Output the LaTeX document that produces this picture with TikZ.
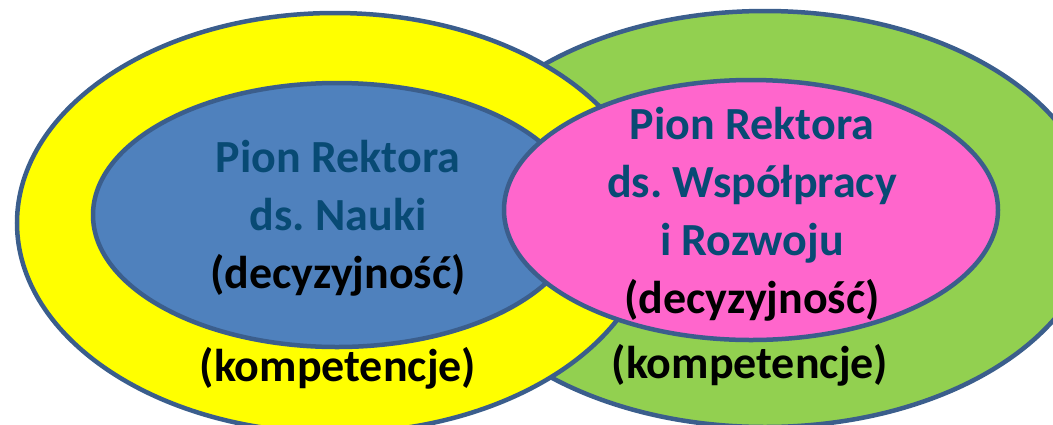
\documentclass[tikz,border=0pt]{standalone}
\usepackage{fontspec}
\setmainfont{Carlito}
\usetikzlibrary{positioning,shapes.geometric}
\definecolor{figedge}{RGB}{59,94,140}
\definecolor{figyellow}{RGB}{255,255,0}
\definecolor{figgreen}{RGB}{146,208,80}
\definecolor{figblue}{RGB}{79,129,189}
\definecolor{figpink}{RGB}{255,102,204}
\definecolor{fignavy}{RGB}{8,74,116}
\tikzset{
  figsphere/.style={draw=figedge, ellipse, line width=4.5pt, inner sep=0pt},
  figtext/.style={font=\fontsize{46}{58}\selectfont\bfseries\frenchspacing, align=center, inner sep=0pt},
}

\begin{document}
\begin{tikzpicture}[x=1pt, y=-1pt,
    pion/.style={figtext, text=fignavy},
    komp/.style={figtext, text=black}]
  \useasboundingbox (0,0) rectangle (1053,424);
  \clip (0,0) rectangle (1053,424);
  % outer rings (competences)
  \node[figsphere, fill=figgreen, minimum width=660pt, minimum height=416pt] (wspring) at (765,219) {};
  \node[figsphere, fill=figyellow, minimum width=636pt, minimum height=420pt] (naukring) at (335,223) {};
  % inner ovals (decisions)
  \node[figsphere, fill=figblue, minimum width=488pt, minimum height=264pt] (nauka) at (337,215) {};
  \node[figsphere, fill=figpink, minimum width=494pt, minimum height=260pt] (wsp) at (751,210) {};
  \node[pion] (nauka text) at (338,218) {Pion Rektora\\ds. Nauki\\\textcolor{black}{(decyzyjność)}};
  \node[pion] (wsp text) at (752,214) {Pion Rektora\\ds. Współpracy\\i Rozwoju\\\textcolor{black}{(decyzyjność)}};
  \node[komp] (nauka komp) at (338,368) {(kompetencje)};
  \node[komp] (wsp komp) at (750,365) {(kompetencje)};
\end{tikzpicture}
\end{document}
